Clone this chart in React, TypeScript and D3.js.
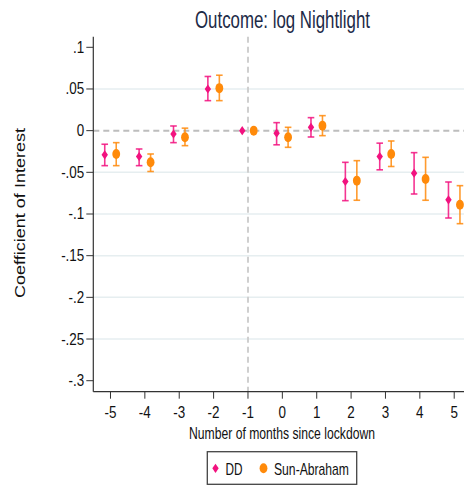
import * as d3 from "d3";

// event time (months since lockdown)
const months = [-5, -4, -3, -2, -1, 0, 1, 2, 3, 4, 5];

// DD estimates with 95% CI
const ddCoef = [-0.029, -0.031, -0.004, 0.05, 0, -0.003, 0.004, -0.061, -0.031, -0.051, -0.083];
const ddLow = [-0.042, -0.042, -0.0144, 0.036, 0, -0.017, -0.0076, -0.084, -0.047, -0.076, -0.1048];
const ddHigh = [-0.0163, -0.022, 0.0056, 0.065, 0, 0.0096, 0.0156, -0.038, -0.015, -0.0264, -0.0616];

// Sun-Abraham estimates with 95% CI
const saCoef = [-0.028, -0.038, -0.008, 0.051, 0, -0.008, 0.006, -0.06, -0.028, -0.058, -0.089];
const saLow = [-0.042, -0.049, -0.018, 0.036, 0, -0.02, -0.006, -0.0835, -0.043, -0.0835, -0.1116];
const saHigh = [-0.0144, -0.028, 0.003, 0.0665, 0, 0.004, 0.018, -0.036, -0.0124, -0.032, -0.066];

const yTicks = [0.1, 0.05, 0, -0.05, -0.1, -0.15, -0.2, -0.25, -0.3];
const yTickLabels = [".1", ".05", "0", "-.05", "-.1", "-.15", "-.2", "-.25", "-.3"];

const W = 464;
const H = 487;
const FONT = "'Liberation Sans', Arial, sans-serif";
const PINK = "#f2127f";
const ORANGE = "#ff8a0a";

export default function App() {
  const x = d3.scaleLinear().domain([-5.5, 5.5]).range([93.3, 471.4]);
  const y = d3.scaleLinear().domain([0.1, -0.3]).range([47.3, 380.7]);
  const top = y(0.1127);
  const bottom = y(-0.3132);
  const left = x(-5.5);
  const off = 0.167;

  const diamond = (cx: number, cy: number) =>
    `M${cx},${cy - 4.6}L${cx + 3.2},${cy}L${cx},${cy + 4.6}L${cx - 3.2},${cy}Z`;

  const bar = (key: string, cx: number, lo: number, hi: number, color: string) => (
    <g key={key} stroke={color} strokeWidth={1.6} strokeOpacity={0.85}>
      <line x1={cx} x2={cx} y1={y(hi)} y2={y(lo)} />
      <line x1={cx - 3.3} x2={cx + 3.3} y1={y(hi)} y2={y(hi)} />
      <line x1={cx - 3.3} x2={cx + 3.3} y1={y(lo)} y2={y(lo)} />
    </g>
  );

  return (
    <svg width={W} height={H} style={{ position: "absolute", left: 0, top: 0, background: "#fff" }}>
      <text x={282.5} y={28} textAnchor="middle" fontFamily={FONT} fontSize={23.5} fill="#1c2a47"
        textLength={175} lengthAdjust="spacingAndGlyphs">
        Outcome: log Nightlight
      </text>

      {/* grid */}
      {yTicks.filter((t) => t !== 0 && t !== 0.1 && t !== -0.3).map((t) => (
        <line key={"g" + t} x1={left} x2={W} y1={y(t)} y2={y(t)} stroke="#e6eef0" strokeWidth={1.5} />
      ))}
      <line x1={left} x2={W} y1={y(0)} y2={y(0)} stroke="#bdbdbd" strokeWidth={2} strokeDasharray="6,4" />
      <line x1={x(-1)} x2={x(-1)} y1={top} y2={bottom} stroke="#cfcfcf" strokeWidth={2} strokeDasharray="6,4" />

      {/* axes */}
      <line x1={left} x2={left} y1={top} y2={bottom} stroke="#333" strokeWidth={1.2} />
      <line x1={left} x2={W} y1={bottom} y2={bottom} stroke="#333" strokeWidth={1.2} />
      {yTicks.map((t, i) => (
        <g key={"yt" + t}>
          <line x1={left - 7} x2={left} y1={y(t)} y2={y(t)} stroke="#333" strokeWidth={1} />
          <text x={left - 9} y={y(t) + 5.5} textAnchor="end" fontFamily={FONT} fontSize={16} fill="#111"
            transform={`translate(${(left - 9) * 0.16},0) scale(0.84,1)`}>
            {yTickLabels[i]}
          </text>
        </g>
      ))}
      {months.map((m) => (
        <g key={"xt" + m}>
          <line x1={x(m)} x2={x(m)} y1={bottom} y2={bottom + 7} stroke="#333" strokeWidth={1} />
          <text x={x(m)} y={418.5} textAnchor="middle" fontFamily={FONT} fontSize={16} fill="#111"
            transform={`translate(${x(m) * 0.16},0) scale(0.84,1)`}>
            {m}
          </text>
        </g>
      ))}
      <text x={282} y={438.5} textAnchor="middle" fontFamily={FONT} fontSize={17} fill="#111"
        textLength={186} lengthAdjust="spacingAndGlyphs">
        Number of months since lockdown
      </text>
      <text transform="translate(25,213) rotate(-90)" textAnchor="middle" fontFamily={FONT} fontSize={15}
        fill="#111" textLength={170} lengthAdjust="spacingAndGlyphs">
        Coefficient of Interest
      </text>

      {/* error bars */}
      {months.map((m, i) =>
        m === -1 ? null : bar("d" + m, x(m - off), ddLow[i], ddHigh[i], PINK)
      )}
      {months.map((m, i) =>
        m === -1 ? null : bar("s" + m, x(m + off), saLow[i], saHigh[i], ORANGE)
      )}
      {/* markers */}
      {months.map((m, i) => (
        <path key={"dm" + m} d={diamond(x(m - off), y(ddCoef[i]))} fill={PINK} />
      ))}
      {months.map((m, i) => (
        <ellipse key={"sm" + m} cx={x(m + off)} cy={y(saCoef[i])} rx={3.9} ry={5} fill={ORANGE} />
      ))}

      {/* legend */}
      <rect x={207.3} y={451.7} width={149.4} height={32.6} fill="#fff" stroke="#444" strokeWidth={1.3} />
      <path d={diamond(215.5, 468.3)} fill={PINK} />
      <text x={225.5} y={474.5} fontFamily={FONT} fontSize={17} fill="#111" textLength={17} lengthAdjust="spacingAndGlyphs">DD</text>
      <ellipse cx={263.5} cy={468.3} rx={3.9} ry={5} fill={ORANGE} />
      <text x={274} y={474.5} fontFamily={FONT} fontSize={17} fill="#111" textLength={75} lengthAdjust="spacingAndGlyphs">Sun-Abraham</text>
    </svg>
  );
}
